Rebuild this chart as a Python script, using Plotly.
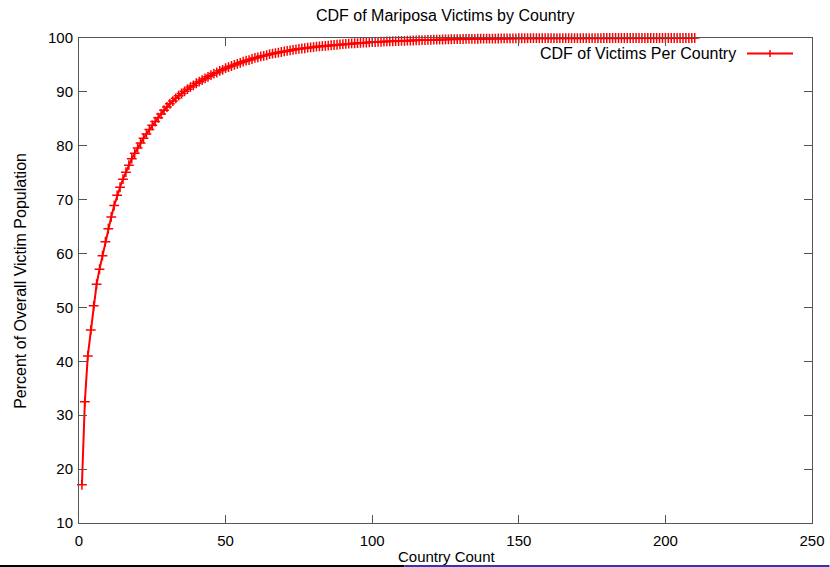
import plotly.graph_objects as go

country_count = list(range(1, 211))
cdf_percent = [
    17.1, 32.5, 41.0, 45.8, 50.3, 54.3, 57.1, 59.6, 62.2, 64.6,
    66.8, 68.9, 70.8, 72.3, 73.8, 75.1, 76.4, 77.6, 78.6, 79.6,
    80.5, 81.4, 82.2, 83.0, 83.8, 84.5, 85.2, 85.9, 86.6, 87.2,
    87.8, 88.3, 88.8, 89.3, 89.7, 90.1, 90.5, 90.9, 91.2, 91.6,
    91.9, 92.2, 92.5, 92.8, 93.1, 93.4, 93.6, 93.9, 94.1, 94.4,
    94.6, 94.8, 95.0, 95.2, 95.4, 95.6, 95.8, 95.9, 96.1, 96.3,
    96.4, 96.6, 96.7, 96.8, 97.0, 97.1, 97.2, 97.3, 97.4, 97.5,
    97.6, 97.7, 97.8, 97.9, 98.0, 98.05, 98.1, 98.2, 98.25, 98.3,
    98.4, 98.45, 98.5, 98.55, 98.6, 98.65, 98.7, 98.75, 98.8, 98.85,
    98.9, 98.95, 99.0, 99.03, 99.06, 99.1, 99.13, 99.16, 99.19, 99.22,
    99.25, 99.28, 99.3, 99.33, 99.36, 99.38, 99.4, 99.42, 99.44, 99.46,
    99.48, 99.5, 99.52, 99.54, 99.56, 99.58, 99.6, 99.62, 99.64, 99.66,
    99.68, 99.69, 99.71, 99.72, 99.74, 99.75, 99.77, 99.78, 99.79, 99.8,
    99.81, 99.82, 99.83, 99.84, 99.85, 99.86, 99.87, 99.88, 99.88, 99.89,
    99.9, 99.9, 99.91, 99.92, 99.92, 99.93, 99.93, 99.94, 99.94, 99.95,
    99.95, 99.95, 99.96, 99.96, 99.96, 99.97, 99.97, 99.97, 99.97, 99.98,
    99.98, 99.98, 99.98, 99.98, 99.98, 99.99, 99.99, 99.99, 99.99, 99.99,
    99.99, 99.99, 99.99, 99.99, 99.99, 99.99, 99.99, 99.99, 100.0, 100.0,
    100.0, 100.0, 100.0, 100.0, 100.0, 100.0, 100.0, 100.0, 100.0, 100.0,
    100.0, 100.0, 100.0, 100.0, 100.0, 100.0, 100.0, 100.0, 100.0, 100.0,
    100.0, 100.0, 100.0, 100.0, 100.0, 100.0, 100.0, 100.0, 100.0, 100.0,
]
x_ticks = [0, 50, 100, 150, 200, 250]
y_ticks = [10, 20, 30, 40, 50, 60, 70, 80, 90, 100]

title_text = "CDF of Mariposa Victims by Country"
series_name = "CDF of Victims Per Country"
x_title = "Country Count"
y_title = "Percent of Overall Victim Population"

W, H = 830, 567
L, R, T, B = 79.4, 17.5, 37.5, 44
pw, ph = W - L - R, H - T - B


def px(x):
    return (x - L) / pw


def py(y):
    return (H - B - y) / ph


FONT = "Liberation Sans, Arial, sans-serif"
RED = "#ff0000"
AX = "#555555"

fig = go.Figure()
fig.add_trace(go.Scatter(
    x=country_count, y=cdf_percent, mode="lines+markers", name=series_name,
    line=dict(color=RED, width=2),
    marker=dict(symbol="cross-thin", size=7, line=dict(color=RED, width=1.5)),
    showlegend=False, cliponaxis=False,
))

axis_common = dict(
    showgrid=False, zeroline=False, showline=True, linecolor=AX, linewidth=1,
    mirror="ticks", ticks="inside", ticklen=8, tickcolor=AX, tickwidth=1,
    tickfont=dict(family=FONT, size=15, color="black"), automargin=False,
)
fig.update_xaxes(range=[0, 250], tickvals=x_ticks, ticklabelstandoff=4, **axis_common)
fig.update_yaxes(range=[10, 100], tickvals=y_ticks, ticklabelstandoff=2, **axis_common)

annotations = [
    dict(text=title_text, x=px(445.5), y=py(4), xref="paper", yref="paper",
         xanchor="center", yanchor="top", showarrow=False,
         font=dict(family=FONT, size=16, color="black")),
    dict(text=y_title, x=px(21), y=py(281), xref="paper", yref="paper",
         xanchor="center", yanchor="middle", textangle=-90, showarrow=False,
         font=dict(family=FONT, size=16, color="black")),
    dict(text=x_title, x=px(447), y=py(567), xref="paper", yref="paper",
         xanchor="center", yanchor="bottom", showarrow=False,
         font=dict(family=FONT, size=15, color="black")),
    dict(text=series_name, x=px(738), y=py(53), xref="paper", yref="paper",
         xanchor="right", yanchor="middle", showarrow=False,
         font=dict(family=FONT, size=16, color="black")),
]

shapes = [
    # legend sample
    dict(type="line", xref="paper", yref="paper", x0=px(747.5), x1=px(793.5),
         y0=py(53), y1=py(53), line=dict(color=RED, width=2)),
    dict(type="line", xref="paper", yref="paper", x0=px(770.5), x1=px(770.5),
         y0=py(49.5), y1=py(56.5), line=dict(color=RED, width=1.5)),
    # bottom screen strip
    dict(type="rect", xref="paper", yref="paper", x0=px(0), x1=px(405),
         y0=py(565), y1=py(567), fillcolor="black", line=dict(width=0)),
    dict(type="rect", xref="paper", yref="paper", x0=px(405), x1=px(830),
         y0=py(565), y1=py(567), fillcolor="#3535b0", line=dict(width=0)),
]

fig.update_layout(
    width=W, height=H, autosize=False,
    margin=dict(l=L, r=R, t=T, b=B, pad=0, autoexpand=False),
    paper_bgcolor="white", plot_bgcolor="white",
    annotations=annotations, shapes=shapes, showlegend=False,
    font=dict(family=FONT),
)

fig.write_html(
    "out.html", include_plotlyjs=True,
    config={"displayModeBar": False, "responsive": False},
    post_script=(
        "document.body.style.margin='0';"
        "document.body.style.overflow='hidden';"
        "document.documentElement.style.overflow='hidden';"
    ),
)
